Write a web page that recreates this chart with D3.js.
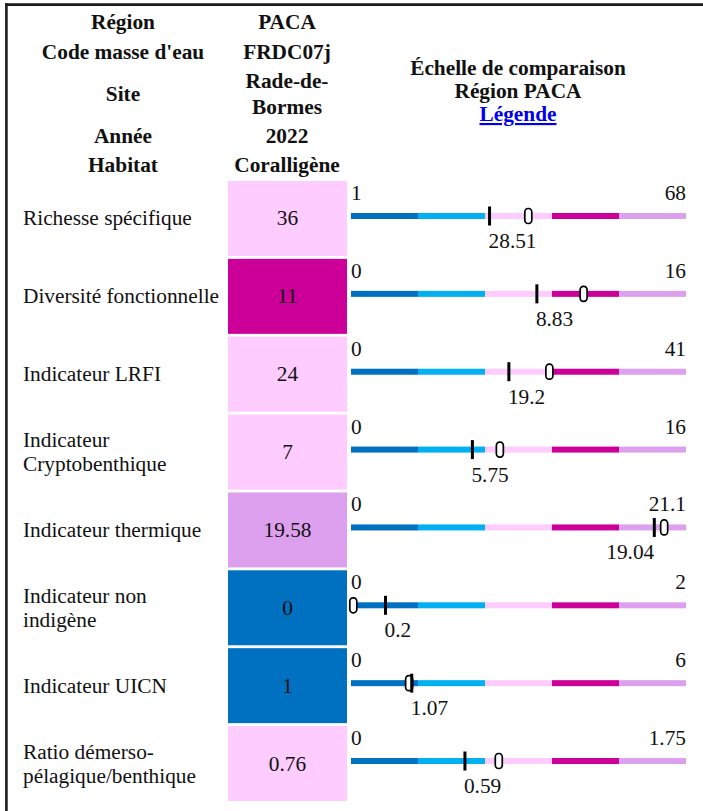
<!DOCTYPE html>
<html>
<head>
<meta charset="utf-8">
<script src="https://cdn.jsdelivr.net/npm/d3@7"></script>
<style>
  html, body { margin: 0; padding: 0; background: #fff; }
  svg { display: block; }
</style>
</head>
<body>
<svg id="chart" width="703" height="811"></svg>
<script>
// ---- data ----
const headerLabels = ["Région", "Code masse d'eau", "Site", "Année", "Habitat"];
const headerValues = ["PACA", "FRDC07j", "Rade-de-\nBormes", "2022", "Coralligène"];
const scaleTitle = ["Échelle de comparaison", "Région PACA"];
const legendLabel = "Légende";

const indicators = [
  "Richesse spécifique",
  "Diversité fonctionnelle",
  "Indicateur LRFI",
  "Indicateur\nCryptobenthique",
  "Indicateur thermique",
  "Indicateur non\nindigène",
  "Indicateur UICN",
  "Ratio démerso-\npélagique/benthique"
];
const siteValues   = [36, 11, 24, 7, 19.58, 0, 1, 0.76];
const regionValues = [28.51, 8.83, 19.2, 5.75, 19.04, 0.2, 1.07, 0.59];
const scaleMins    = [1, 0, 0, 0, 0, 0, 0, 0];
const scaleMaxs    = [68, 16, 41, 16, 21.1, 2, 6, 1.75];
const classColors  = ["#0070C0", "#00B0F0", "#FFCCFF", "#CC0099", "#DDA0EE"];

// ---- layout ----
const FONT = "'Liberation Serif', 'Times New Roman', Tinos, 'DejaVu Serif', serif";
const svg = d3.select("#chart");
const root = svg.append("g").attr("font-family", FONT).style("font-family", FONT).attr("fill", "#111");
const FS = 21.33;
const barX0 = 351, barX1 = 686;
const cellX0 = 228, cellX1 = 347;

// frame
root.append("line").attr("x1", 5).attr("x2", 703).attr("y1", 4.6).attr("y2", 4.6)
  .attr("stroke", "#1c1c1c").attr("stroke-width", 2.6);
root.append("line").attr("x1", 6.4).attr("x2", 6.4).attr("y1", 3.3).attr("y2", 811)
  .attr("stroke", "#1c1c1c").attr("stroke-width", 2.6);

// header
const headerY = [29, 59, 101, 143, 172];
headerLabels.forEach((t, i) => {
  root.append("text").attr("x", 123).attr("y", headerY[i]).attr("text-anchor", "middle")
    .attr("font-size", FS).attr("font-weight", "bold").text(t);
});
headerValues.forEach((t, i) => {
  const lines = t.split("\n");
  const g = root.append("text").attr("x", 287).attr("text-anchor", "middle")
    .attr("font-size", FS).attr("font-weight", "bold");
  lines.forEach((l, j) => {
    g.append("tspan").attr("x", 287)
      .attr("y", headerY[i] - (lines.length - 1) * 13 + j * 26).text(l);
  });
});
scaleTitle.forEach((t, i) => {
  root.append("text").attr("x", 518).attr("y", 75 + i * 23).attr("text-anchor", "middle")
    .attr("font-size", FS).attr("font-weight", "bold").text(t);
});
root.append("text").attr("x", 518).attr("y", 121).attr("text-anchor", "middle")
  .attr("font-size", FS).attr("font-weight", "bold")
  .attr("text-decoration", "underline").attr("fill", "#0000EE").text(legendLabel);

// rows
const rowY = d3.scaleBand().domain(d3.range(indicators.length))
  .range([181, 801]).paddingInner(0.037).paddingOuter(0);
const segX = d3.scaleBand().domain(d3.range(classColors.length)).range([barX0, barX1]);

indicators.forEach((name, i) => {
  const top = rowY(i), h = rowY.bandwidth(), cy = top + h / 2;
  const x = d3.scaleLinear().domain([scaleMins[i], scaleMaxs[i]]).range([barX0, barX1]);
  const cls = d3.scaleQuantize().domain([scaleMins[i], scaleMaxs[i]]).range(classColors);

  // label
  const lines = name.split("\n");
  const lt = root.append("text").attr("font-size", FS);
  lines.forEach((l, j) => {
    lt.append("tspan").attr("x", 23)
      .attr("y", cy + 7 - (lines.length - 1) * 12 + j * 24).text(l);
  });

  // site value cell
  root.append("rect").attr("x", cellX0).attr("y", top).attr("width", cellX1 - cellX0).attr("height", h)
    .attr("fill", cls(siteValues[i]));
  root.append("text").attr("x", (cellX0 + cellX1) / 2).attr("y", cy + 7)
    .attr("text-anchor", "middle").attr("font-size", FS).text(siteValues[i]);

  // min / max
  root.append("text").attr("x", barX0).attr("y", top + 19).attr("font-size", FS).text(scaleMins[i]);
  root.append("text").attr("x", barX1).attr("y", top + 19).attr("text-anchor", "end")
    .attr("font-size", FS).text(scaleMaxs[i]);

  // bar segments
  const by = top + 35;
  classColors.forEach((c, k) => {
    root.append("rect").attr("x", segX(k)).attr("y", by - 3).attr("width", segX.bandwidth()).attr("height", 6)
      .attr("fill", c);
  });

  // site marker
  const sx = x(siteValues[i]);
  root.append("rect").attr("x", sx - 1.2).attr("y", by - 7.5).attr("width", 7).attr("height", 15)
    .attr("rx", 3.2).attr("ry", 3.5).attr("fill", "#fff").attr("stroke", "#000").attr("stroke-width", 1.7);

  // regional tick
  const rx = x(regionValues[i]);
  root.append("rect").attr("x", rx - 0.5).attr("y", by - 9.5).attr("width", 3).attr("height", 19)
    .attr("fill", "#000");

  // regional value label
  const vt = root.append("text").attr("x", rx).attr("y", top + 67).attr("font-size", FS).text(regionValues[i]);
  const w = vt.node().getComputedTextLength();
  if (rx + w > barX1) vt.attr("text-anchor", "end").attr("x", rx + 1);
});
</script>
</body>
</html>
